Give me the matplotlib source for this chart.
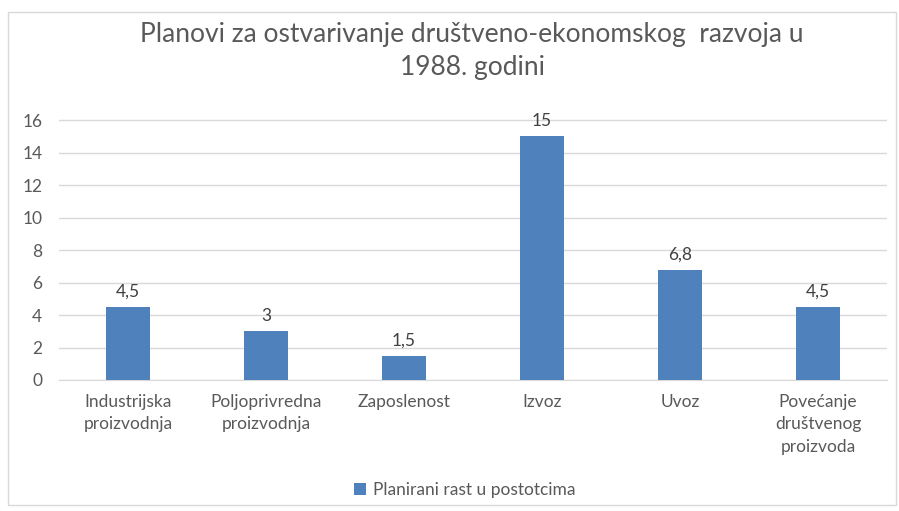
import matplotlib
matplotlib.use("Agg")
import matplotlib.pyplot as plt
from matplotlib.patches import Rectangle

categories = ["Industrijska\nproizvodnja", "Poljoprivredna\nproizvodnja", "Zaposlenost",
              "Izvoz", "Uvoz", "Povećanje\ndruštvenog\nproizvoda"]
values = [4.5, 3, 1.5, 15, 6.8, 4.5]
value_labels = ["4,5", "3", "1,5", "15", "6,8", "4,5"]
yticks = [0, 2, 4, 6, 8, 10, 12, 14, 16]
series_name = "Planirani rast u postotcima"
title = "Planovi za ostvarivanje društveno-ekonomskog  razvoja u\n1988. godini"

plt.rcParams['font.family'] = ['Lato', 'DejaVu Sans']

W, H = 899, 511
fig = plt.figure(figsize=(W/100, H/100), dpi=100)
fig.patch.set_facecolor("white")

# chart border
fig.patches.append(Rectangle((8/W, 1 - 505/H), (896-8)/W, (505-12)/H, transform=fig.transFigure,
                             fill=False, edgecolor="#d9d9d9", linewidth=1))

ax = fig.add_axes([59/W, 1 - 380/H, (887-59)/W, (380-120)/H * 16.5/16])
x = list(range(len(categories)))
bar_color = "#4f81bd"
bars = ax.bar(x, values, width=0.32, color=bar_color, label=series_name, zorder=3)
for xi, v, lab in zip(x, values, value_labels):
    ax.text(xi, v + 0.45, lab, ha="center", va="bottom", fontsize=12.5, color="#404040")

ax.set_xlim(-0.5, len(categories) - 0.5)
ax.set_ylim(0, 16.5)
ax.set_yticks(yticks)
ax.set_yticklabels([str(t) for t in yticks], fontsize=12.5, color="#595959")
ax.yaxis.grid(True, color="#d9d9d9", linewidth=1, zorder=0)
ax.set_xticks(x)
ax.set_xticklabels(categories, fontsize=12.5, color="#595959", linespacing=1.5)
ax.tick_params(axis="both", length=0)
ax.tick_params(axis="y", pad=12)
ax.tick_params(axis="x", pad=10)
for s in ["top", "right", "left"]:
    ax.spines[s].set_visible(False)
ax.spines["bottom"].set_color("#d9d9d9")

fig.text(472/W, 1 - 51/H, title, ha="center", va="center", fontsize=19, color="#595959",
         linespacing=1.4)

leg = fig.legend(handles=[bars], labels=[series_name], loc="center", bbox_to_anchor=(465/W, 1 - 490/H),
                 frameon=False, fontsize=12.5, handlelength=0.7, handleheight=0.7, handletextpad=0.4)
for t in leg.get_texts():
    t.set_color("#595959")

fig.savefig("out.png", dpi=100, facecolor="white")
